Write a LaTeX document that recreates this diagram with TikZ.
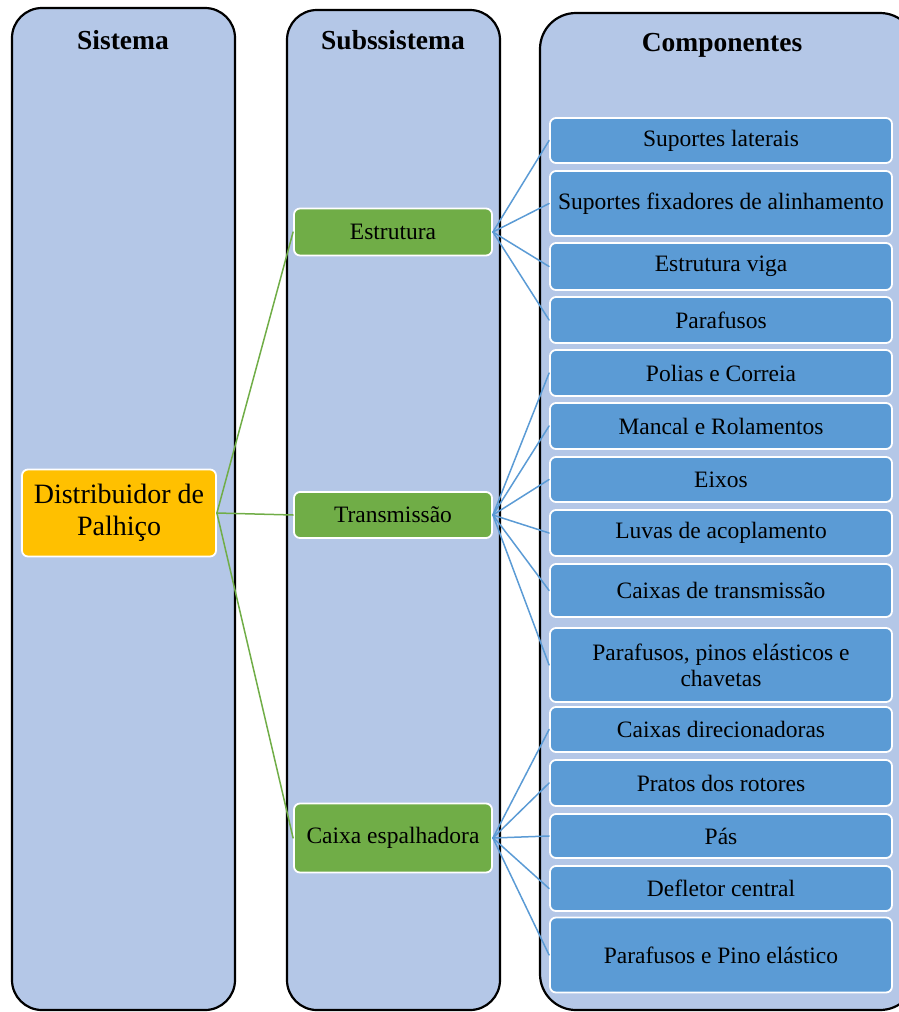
\documentclass[tikz,border=0pt]{standalone}
\usepackage{fontspec}
\setmainfont{Liberation Serif}
\definecolor{colfill}{HTML}{B4C7E7}
\definecolor{sysorange}{HTML}{FFC000}
\definecolor{subgreen}{HTML}{70AD47}
\definecolor{compblue}{HTML}{5B9BD5}

\begin{document}
\begin{tikzpicture}[x=1pt, y=-1pt, line join=round, line cap=round,
	column/.style={draw=black, line width=2.2pt, fill=colfill, rounded corners=30pt},
	header/.style={font=\fontsize{27.5}{30}\selectfont\bfseries},
	box/.style={draw=white, line width=1.8pt, rounded corners=6pt, align=center, inner sep=2pt, font=\fontsize{23.5}{26}\selectfont},
	sysbox/.style={box, fill=sysorange, minimum width=194pt, minimum height=87pt, font=\fontsize{28}{32}\selectfont},
	subbox/.style={box, fill=subgreen, minimum width=198pt},
	compbox/.style={box, fill=compblue, minimum width=342pt},
	greenline/.style={draw=subgreen, line width=1.5pt},
	blueline/.style={draw=compblue, line width=1.5pt}]
	\useasboundingbox (0,0) rectangle (899,1012);
	\clip (0,0) rectangle (899,1012);
	% Colunas
	\draw[column] (12,8) rectangle (235,1010);
	\draw[column] (287,10) rectangle (500,1010);
	\draw[column, rounded corners=36pt] (540,13) rectangle (916,1010);
	\node[header] (hsis) at (123,40) {Sistema};
	\node[header] (hsub) at (393,40) {Subssistema};
	\node[header] (hcomp) at (722,45) {Componentes};
	% Sistema
	\node[sysbox] (sis) at (119,513) {Distribuidor de\\Palhiço};
	% Subsistemas
	\node[subbox, minimum height=47pt] (est) at (393,232) {Estrutura};
	\node[subbox, minimum height=46pt] (tra) at (393,515) {Transmissão};
	\node[subbox, minimum height=69pt] (cai) at (393,838) {Caixa espalhadora};
	% Componentes
	\foreach \n/\yc/\h/\t in {
		1/140.5/45/{Suportes laterais},
		2/203.5/65/{Suportes fixadores de alinhamento},
		3/266.5/47/{Estrutura viga},
		4/320/46/{Parafusos},
		5/373/46/{Polias e Correia},
		6/426/46/{Mancal e Rolamentos},
		7/479.5/45/{Eixos},
		8/533/46/{Luvas de acoplamento},
		9/590.5/53/{Caixas de transmissão},
		10/665/74/{Parafusos, pinos elásticos e\\chavetas},
		11/729.5/45/{Caixas direcionadoras},
		12/783/46/{Pratos dos rotores},
		13/836/44/{Pás},
		14/888.5/45/{Defletor central},
		15/955/75/{Parafusos e Pino elástico}}
		\node[compbox, minimum height=\h pt] (c\n) at (721,\yc) {\t};
	% Ligações
	\foreach \s in {est,tra,cai}
		\draw[greenline] (sis.east) -- (\s.west);
	\foreach \c in {1,...,4}
		\draw[blueline] (est.east) -- (c\c.west);
	\foreach \c in {5,...,10}
		\draw[blueline] (tra.east) -- (c\c.west);
	\foreach \c in {11,...,15}
		\draw[blueline] (cai.east) -- (c\c.west);
\end{tikzpicture}
\end{document}
